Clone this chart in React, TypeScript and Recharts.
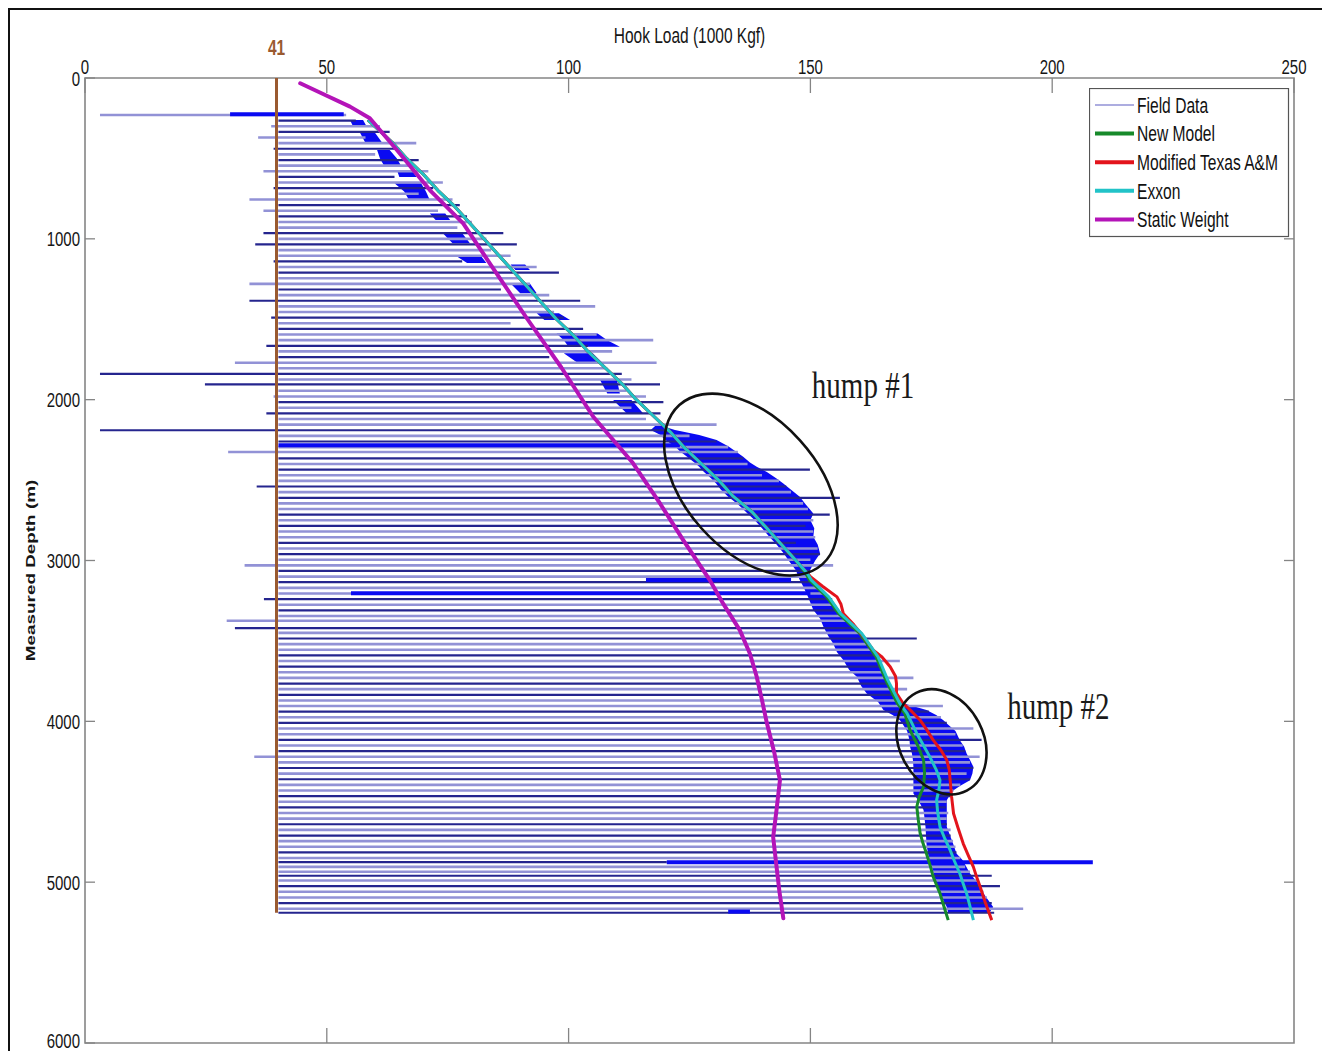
import React from 'react';
import { ComposedChart, Line, Area, XAxis, YAxis, ReferenceArea, ReferenceDot, Legend } from 'recharts';

// ---------- axes ----------
const loadTicks = [0, 50, 100, 150, 200, 250];
const depthTicks = [0, 1000, 2000, 3000, 4000, 5000, 6000];
const loadDomain: [number, number] = [0, 250];
const depthDomain: [number, number] = [0, 6000];
const xTitle = 'Hook Load (1000 Kgf)';
const yTitle = 'Measured Depth (m)';

// ---------- brown reference line (as drawn) ----------
const baseLoad = 39.6;
const baseLabel = '41';
const baseDepths = [0, 5190];

// ---------- field data: strokes [depth, low load, high load] ----------
const fieldStrokes: Array<[number, number, number]> = [
  [230, 3.1, 54], [265, 40, 56], [300, 38.5, 61], [335, 40, 63], [370, 35.8, 58],
  [405, 40, 68.5], [440, 39, 65], [475, 40, 60], [510, 40, 69], [545, 40, 67],
  [580, 36.9, 71], [615, 40, 64], [650, 40, 74], [685, 39, 72], [720, 40, 69],
  [755, 34, 76], [790, 40, 77.5], [825, 36.9, 73], [860, 40, 79], [895, 40, 80],
  [930, 40, 77], [965, 36.9, 86.5], [1000, 40, 83], [1035, 35.2, 89.3], [1070, 40, 84],
  [1105, 40, 88], [1140, 39, 78], [1175, 40, 93.4], [1210, 40, 98], [1245, 40, 90],
  [1280, 34, 92], [1315, 40, 86], [1350, 40, 96], [1385, 34, 102.4], [1420, 40, 105.5],
  [1455, 40, 97], [1490, 38.5, 99], [1525, 40, 88], [1560, 40, 103], [1595, 40, 105.8],
  [1630, 40, 117.5], [1665, 37.5, 104], [1700, 40, 109], [1735, 40, 96], [1770, 31, 118.2],
  [1805, 40, 108], [1840, 3.1, 111], [1875, 40, 113], [1905, 24.8, 118.9], [1945, 40, 112],
  [1980, 39, 116], [2015, 40, 119.6], [2050, 40, 113], [2085, 37.5, 119], [2120, 40, 116],
  [2155, 40, 130.6], [2190, 3.1, 121], [2225, 40, 125], [2260, 40, 130.6], [2295, 40, 133],
  [2325, 29.6, 135], [2365, 40, 136.1], [2400, 40, 137], [2435, 40, 149.9], [2470, 40, 140],
  [2505, 40, 143.5], [2540, 35.5, 145], [2575, 40, 146], [2610, 40, 156.1], [2645, 40, 148.5],
  [2680, 40, 149.5], [2715, 40, 154], [2750, 40, 150.6], [2785, 40, 149], [2820, 40, 150.6],
  [2855, 40, 151], [2890, 40, 147], [2925, 40, 151.5], [2960, 40, 152], [2995, 40, 150],
  [3030, 33, 154.7], [3065, 40, 150], [3100, 40, 149.5], [3135, 40, 150.5], [3170, 40, 152],
  [3205, 40, 153], [3240, 37, 154.5], [3275, 40, 155], [3310, 40, 155.5], [3345, 40, 156.5],
  [3375, 29.3, 158], [3420, 31, 159], [3450, 40, 160], [3485, 40, 172], [3520, 40, 161.5],
  [3555, 40, 162.5], [3590, 40, 163.5], [3625, 40, 168.5], [3660, 40, 164.5], [3695, 40, 165],
  [3730, 40, 171.3], [3765, 40, 166], [3800, 40, 170], [3835, 40, 167], [3870, 40, 168],
  [3905, 40, 177.4], [3940, 40, 174.5], [3975, 40, 177], [4010, 40, 178.2], [4045, 40, 183.7],
  [4080, 40, 180], [4115, 40, 185.4], [4150, 40, 181.5], [4185, 40, 182], [4220, 35, 185],
  [4255, 40, 183], [4290, 40, 183.7], [4325, 40, 182.3], [4360, 40, 183], [4395, 40, 181],
  [4430, 40, 179.6], [4465, 40, 179], [4500, 40, 178.2], [4535, 40, 178], [4570, 40, 178.5],
  [4605, 40, 178.2], [4640, 40, 178.2], [4675, 40, 179], [4710, 40, 179], [4745, 40, 179.5],
  [4780, 40, 180], [4815, 40, 180.2], [4850, 40, 181], [4876, 40, 120.3], [4905, 40, 182],
  [4935, 40, 183], [4960, 40, 187.5], [4990, 40, 184.5], [5025, 40, 189.2], [5060, 40, 185.8],
  [5095, 40, 186.5], [5130, 40, 187.5], [5165, 40, 194], [5190, 40, 188],
];

// strong (pure blue) field strokes [depth, low, high]
const boldStrokes: Array<[number, number, number]> = [
  [226, 30, 53.5], [2283, 40, 123], [3122, 116, 146], [3203, 55, 150],
  [4876, 120.3, 208.4], [5183, 133, 137.5],
];

// dense field data near the tips: patches of [depth, inner load, outer load]
const tipPatches: Array<Array<[number, number, number]>> = [
  [[261, 54.8, 57.5], [304, 55.5, 58.3]],
  [[342, 56.9, 60], [404, 58, 61.5]],
  [[448, 60.4, 63], [500, 61, 64.5], [553, 62, 65.5]],
  [[572, 64.5, 67.5], [615, 65, 68.6]],
  [[655, 64, 69.5], [705, 66, 70.5], [759, 67, 71.3]],
  [[842, 71.3, 74.5], [883, 72.5, 75.5]],
  [[966, 74, 78], [1028, 76, 79.6]],
  [[1111, 77, 82], [1150, 79, 83]],
  [[1160, 88, 91], [1194, 89, 92]],
  [[1277, 88, 92], [1339, 90, 93.4]],
  [[1463, 93.4, 98], [1505, 95, 100.3]],
  [[1588, 97.5, 106], [1630, 99, 108], [1671, 100, 110.6]],
  [[1712, 99, 105], [1774, 102, 107.1]],
  [[1878, 106.5, 110], [1961, 108, 110.6]],
  [[2002, 109.2, 113], [2085, 112, 115.4]],
  [
    [2160, 118, 119], [2189, 117, 122], [2220, 119, 127], [2251, 120, 130.6], [2290, 122, 133],
    [2320, 123, 134.5], [2355, 124.5, 136.1], [2390, 126, 137.5], [2417, 127, 138.9], [2450, 128, 141],
    [2490, 129.5, 143], [2521, 130.5, 144.4], [2560, 131.5, 146], [2604, 133, 147.8], [2650, 135, 149],
    [2707, 137, 150.6], [2750, 138.5, 150], [2800, 140, 150.8], [2852, 141.5, 150.6], [2900, 143, 151.5],
    [2956, 144.5, 152], [3000, 145.5, 151], [3060, 147, 149.9], [3100, 147.5, 149.8], [3122, 147.8, 150.5],
    [3160, 148.5, 152], [3226, 149.5, 154], [3308, 150.6, 156], [3360, 152, 157.5], [3412, 152.7, 159],
    [3470, 153.7, 160.5], [3516, 154.7, 161.5], [3570, 155.5, 163], [3619, 156.8, 164], [3680, 158, 165],
    [3723, 159.6, 165.8], [3780, 160.5, 166.5], [3826, 161.6, 167.3], [3880, 164, 168.3], [3930, 165.1, 174],
    [3960, 167, 176], [3993, 168.5, 177.5], [4013, 169, 178.2], [4060, 170, 180], [4117, 170.5, 180.9],
    [4158, 170.6, 181.8], [4200, 171, 182.3], [4241, 171.2, 183], [4283, 171.3, 183.7], [4324, 171.3, 183.5],
    [4366, 171.3, 183], [4400, 171.3, 181], [4428, 171.3, 179.6], [4448, 171.3, 179], [4490, 172.3, 178.2],
    [4552, 173.4, 178.2], [4656, 173.8, 178.2], [4760, 174, 179.5], [4822, 174.3, 180.2], [4863, 174.7, 181.5],
    [4946, 175.5, 183], [5000, 176, 184.5], [5070, 176.8, 185.8], [5154, 178.2, 187.8], [5190, 178.5, 187],
  ],
];

// ---------- models [depth, hook load] ----------
const newModel: Array<[number, number]> = [
  [260, 58.5], [400, 63.5], [500, 66.5], [600, 70], [700, 73], [800, 76.5], [900, 79.5], [1000, 82.5],
  [1100, 85.5], [1200, 88.5], [1300, 91.5], [1400, 94.5], [1500, 97.5], [1600, 101], [1700, 104],
  [1800, 107.5], [1900, 111], [2000, 114], [2100, 117.5], [2200, 121], [2300, 124], [2400, 127.5],
  [2500, 131], [2600, 134], [2700, 138], [2800, 141], [2900, 144], [3000, 147], [3078, 149],
  [3122, 149.8], [3226, 153.4], [3329, 155.8], [3453, 160.2], [3599, 163.6], [3744, 165.6], [3889, 168],
  [3950, 169.5], [4055, 170.6], [4150, 172.2], [4241, 173.4], [4320, 173.6], [4407, 173.4], [4470, 172.5],
  [4531, 172], [4610, 172.3], [4697, 172.7], [4760, 173.3], [4822, 174], [4900, 174.8], [4967, 175.4],
  [5070, 176.8], [5150, 177.6], [5236, 178.5],
];
const texasAM: Array<[number, number]> = [
  [260, 58.5], [400, 63.5], [500, 66.5], [600, 70], [700, 73], [800, 76.5], [900, 79.5], [1000, 82.5],
  [1100, 85.5], [1200, 88.5], [1300, 91.5], [1400, 94.5], [1500, 97.5], [1600, 101], [1700, 104],
  [1800, 107.5], [1900, 111], [2000, 114], [2100, 117.5], [2200, 121], [2300, 124], [2400, 127.5],
  [2500, 131], [2600, 134], [2700, 138], [2800, 141], [2900, 144], [3000, 147], [3100, 150],
  [3160, 152.5], [3226, 155.5], [3270, 156.3], [3329, 156.8], [3400, 159], [3474, 161], [3557, 163],
  [3600, 164.8], [3661, 166.5], [3720, 167.6], [3764, 167.8], [3826, 167.8], [3889, 169.2], [3940, 171],
  [3993, 172.7], [4050, 174], [4117, 175.4], [4180, 177], [4241, 178.2], [4300, 178.7], [4366, 178.9],
  [4470, 179.2], [4573, 179.6], [4660, 180.5], [4760, 181.6], [4830, 182.6], [4905, 183.7], [4970, 184.4],
  [5029, 185.1], [5130, 186.2], [5236, 187.5],
];
const exxon: Array<[number, number]> = [
  [260, 58.5], [400, 63.5], [500, 66.5], [600, 70], [700, 73], [800, 76.5], [900, 79.5], [1000, 82.5],
  [1100, 85.5], [1200, 88.5], [1300, 91.5], [1400, 94.5], [1500, 97.5], [1600, 101], [1700, 104],
  [1800, 107.5], [1900, 111], [2000, 114], [2100, 117.5], [2200, 121], [2300, 124], [2400, 127.5],
  [2500, 131], [2600, 134], [2700, 138], [2800, 141], [2900, 144], [3000, 147], [3078, 149.3],
  [3122, 150.2], [3226, 153.8], [3329, 156.2], [3453, 160.6], [3599, 164], [3744, 166], [3889, 168.5],
  [3950, 170], [4075, 172], [4150, 173.4], [4221, 174.7], [4300, 176], [4366, 176.8], [4420, 176.6],
  [4490, 176.1], [4560, 176.3], [4656, 176.8], [4730, 177.8], [4801, 178.9], [4870, 179.8], [4946, 180.9],
  [5010, 181.6], [5070, 182.3], [5150, 183], [5236, 183.7],
];
const staticWeight: Array<[number, number]> = [
  [33, 44.5], [110, 50], [178, 54.8], [250, 58.9], [448, 64.5], [697, 71.3], [904, 78.2], [1152, 83.7],
  [1500, 91.5], [1800, 98.5], [2106, 105.1], [2394, 113.3], [2650, 119], [2873, 123.7], [3122, 129.2],
  [3270, 132], [3433, 135.4], [3580, 137.5], [3723, 138.9], [3870, 140], [4011, 141], [4190, 142.5],
  [4366, 143.7], [4550, 143], [4720, 142.3], [4904, 143], [5060, 143.6], [5224, 144.4],
];

// ---------- annotations ----------
const humpNames = ['hump #1', 'hump #2'];
const humpCenters: Array<[number, number]> = [[137.7, 2528], [177.1, 4127]]; // [load, depth]
const humpTextAt: Array<[number, number]> = [[150.3, 1989], [190.7, 3988]];

// ---------- legend ----------
const legendNames = ['Field Data', 'New Model', 'Modified Texas A&M', 'Exxon', 'Static Weight'];

// ---------- styles ----------
const SANS = "'Liberation Sans', Arial, Helvetica, sans-serif";
const SERIF = "'Liberation Serif', 'Times New Roman', serif";
const FRAME = '#858585';
const C_LIGHT = '#9292d6';
const C_DARK = '#25258e';
const C_BLUE = '#0a0af2';
const C_BROWN = '#9a5a30';
const C_GREEN = '#178a2a';
const C_RED = '#e3141c';
const C_CYAN = '#22c3c8';
const C_MAG = '#b414b8';
const legendColors = [C_LIGHT, C_GREEN, C_RED, C_CYAN, C_MAG];
const legendWidths = [1.4, 4, 4, 4, 4];
const humpEllipse = [
  { rx: 107, ry: 66, rot: 48 },
  { rx: 55, ry: 42, rot: 62.6 },
];
const SY = 1.4;

// ---------- derived series ----------
const isDark = (i: number) => i % 5 === 1 || i % 5 === 3;
const bandData = tipPatches.flatMap((patch) => [
  ...patch.map(([d, a, b]) => ({ depth: d, band: [a, b] as [number, number] | null })),
  { depth: patch[patch.length - 1][0], band: null as [number, number] | null },
]);
const toPts = (rows: Array<[number, number]>) => rows.map(([d, v]) => ({ depth: d, load: v }));
const seg = ([d, lo, hi]: [number, number, number]) => [{ depth: d, load: lo }, { depth: d, load: hi }];
const baseData = baseDepths.map((d) => ({ depth: d, load: baseLoad }));

function SText(props: any) {
  const { x, y, children, anchor = 'start', size = 15, weight = 'normal', fill = '#161616', family = SANS, middle = false, sx = 1, sy = SY, rotate = 0 } = props;
  return (
    <text
      transform={`translate(${x},${y}) rotate(${rotate}) scale(${sx},${sy})`}
      textAnchor={anchor}
      fontSize={size}
      fontWeight={weight}
      fill={fill}
      fontFamily={family}
      dy={middle ? '0.36em' : 0}
    >
      {children}
    </text>
  );
}

const TOP_MARGIN = 4;
const LEFT_MARGIN = 5;
const lastDepthTick = depthTicks[depthTicks.length - 1];

const TopTick = (p: any) => {
  const { x, y, payload } = p;
  const top = y + TOP_MARGIN;
  return (
    <g>
      <SText x={x} y={y} anchor="middle" size={15}>{payload.value}</SText>
      <line x1={x} x2={x} y1={top} y2={top + 15} stroke={FRAME} strokeWidth={1.3} />
    </g>
  );
};
const BottomTick = (p: any) => {
  const { x, y } = p;
  return <line x1={x} x2={x} y1={y - 15} y2={y} stroke={FRAME} strokeWidth={1.3} />;
};
const LeftTick = (p: any) => {
  const { x, y, payload } = p;
  const left = x + LEFT_MARGIN;
  const ty = payload.value === lastDepthTick ? y - 2.5 : y;
  return (
    <g>
      <SText x={x} y={ty} anchor="end" size={15} middle>{payload.value}</SText>
      <line x1={left} x2={left + 10} y1={y} y2={y} stroke={FRAME} strokeWidth={1.3} />
    </g>
  );
};
const RightTick = (p: any) => {
  const { x, y } = p;
  return <line x1={x - 10} x2={x} y1={y} y2={y} stroke={FRAME} strokeWidth={1.3} />;
};

const LegendBox = () => (
  <svg width={201} height={150} style={{ display: 'block' }}>
    <rect x={0.5} y={0.5} width={199} height={148} fill="#fff" stroke="#555" strokeWidth={1.2} />
    {legendNames.map((n, i) => {
      const cy = 17 + i * 28.6;
      return (
        <g key={n}>
          <line x1={6} x2={45} y1={cy} y2={cy} stroke={legendColors[i]} strokeWidth={legendWidths[i]} />
          <SText x={48} y={cy} size={15.6} middle fill="#111">{n}</SText>
        </g>
      );
    })}
  </svg>
);

export default function App() {
  return (
    <div style={{ position: 'relative', width: 1318, height: 1043 }}>
      <style>{'html,body{overflow:hidden;}'}</style>
      <div style={{ position: 'absolute', left: 0, top: 0, width: 1317, height: 1070, border: '2px solid #111', boxSizing: 'border-box' }} />
      <div style={{ position: 'absolute', left: 0, top: 0 }}>
        <ComposedChart
          width={1318}
          height={1043}
          layout="vertical"
          margin={{ top: 40, right: 0, bottom: 0, left: 17 }}
        >
          <XAxis
            xAxisId={0}
            type="number"
            orientation="top"
            domain={loadDomain}
            ticks={loadTicks}
            interval={0}
            height={30}
            tickSize={0}
            tickMargin={TOP_MARGIN}
            axisLine={false}
            tickLine={false}
            tick={<TopTick />}
            allowDataOverflow
            label={{
              content: (p: any) => {
                const vb = p.viewBox;
                return <SText x={vb.x + vb.width / 2} y={vb.y - 5} anchor="middle" size={15.5}>{xTitle}</SText>;
              },
            }}
          />
          <XAxis
            xAxisId="b"
            type="number"
            orientation="bottom"
            domain={loadDomain}
            ticks={loadTicks.slice(1, -1)}
            interval={0}
            height={8}
            tickSize={0}
            tickMargin={0}
            axisLine={false}
            tickLine={false}
            tick={<BottomTick />}
            allowDataOverflow
          />
          <YAxis
            yAxisId={0}
            type="number"
            dataKey="depth"
            orientation="left"
            domain={depthDomain}
            ticks={depthTicks}
            interval={0}
            width={60}
            tickSize={0}
            tickMargin={LEFT_MARGIN}
            axisLine={false}
            tickLine={false}
            tick={<LeftTick />}
            allowDataOverflow
            label={{
              content: (p: any) => {
                const vb = p.viewBox;
                return (
                  <SText x={vb.x + 5} y={vb.y + vb.height / 2 + 10} anchor="middle" size={13.5} weight="bold" middle rotate={-90} sx={1.4} sy={1}>
                    {yTitle}
                  </SText>
                );
              },
            }}
          />
          <YAxis
            yAxisId="r"
            type="number"
            dataKey="depth"
            orientation="right"
            domain={depthDomain}
            ticks={depthTicks.slice(1, -1)}
            interval={0}
            width={32}
            tickSize={0}
            tickMargin={0}
            axisLine={false}
            tickLine={false}
            tick={<RightTick />}
            allowDataOverflow
          />

          {fieldStrokes.map((s, i) => (
            <Line
              key={'f' + i}
              data={seg(s)}
              dataKey="load"
              stroke={isDark(i) ? C_DARK : C_LIGHT}
              strokeWidth={isDark(i) ? 2.2 : 2.6}
              dot={false}
              activeDot={false}
              isAnimationActive={false}
              legendType="none"
            />
          ))}
          <Area data={bandData} dataKey="band" type="linear" stroke="none" fill={C_BLUE} fillOpacity={1} isAnimationActive={false} legendType="none" connectNulls={false} dot={false} activeDot={false} />
          {boldStrokes.map((s, i) => (
            <Line
              key={'b' + i}
              data={seg(s)}
              dataKey="load"
              stroke={C_BLUE}
              strokeWidth={4}
              dot={false}
              activeDot={false}
              isAnimationActive={false}
              legendType="none"
            />
          ))}
          <Line data={baseData} dataKey="load" stroke={C_BROWN} strokeWidth={3} dot={false} activeDot={false} isAnimationActive={false} legendType="none" />

          <Line data={toPts(newModel)} dataKey="load" stroke={C_GREEN} strokeWidth={3} dot={false} activeDot={false} isAnimationActive={false} name="New Model" strokeLinejoin="round" />
          <Line data={toPts(texasAM)} dataKey="load" stroke={C_RED} strokeWidth={3} dot={false} activeDot={false} isAnimationActive={false} name="Modified Texas A&M" strokeLinejoin="round" />
          <Line data={toPts(exxon)} dataKey="load" stroke={C_CYAN} strokeWidth={3} dot={false} activeDot={false} isAnimationActive={false} name="Exxon" strokeLinejoin="round" />
          <Line data={toPts(staticWeight)} dataKey="load" stroke={C_MAG} strokeWidth={4} dot={false} activeDot={false} isAnimationActive={false} name="Static Weight" strokeLinejoin="round" strokeLinecap="round" />

          <ReferenceArea x1={loadDomain[0]} x2={loadDomain[1]} y1={depthDomain[0]} y2={depthDomain[1]} fill="none" fillOpacity={0} stroke={FRAME} strokeWidth={1.6} ifOverflow="visible" />

          <ReferenceDot
            x={baseLoad}
            y={depthDomain[0]}
            r={0}
            ifOverflow="visible"
            shape={(p: any) => (
              <SText x={p.cx} y={p.cy - 23} anchor="middle" size={15.5} weight="bold" fill={C_BROWN}>{baseLabel}</SText>
            )}
          />
          {humpNames.map((n, i) => (
            <ReferenceDot
              key={'e' + n}
              x={humpCenters[i][0]}
              y={humpCenters[i][1]}
              r={0}
              ifOverflow="visible"
              shape={(p: any) => (
                <ellipse
                  cx={p.cx}
                  cy={p.cy}
                  rx={humpEllipse[i].rx}
                  ry={humpEllipse[i].ry}
                  transform={`rotate(${humpEllipse[i].rot} ${p.cx} ${p.cy})`}
                  fill="none"
                  stroke="#111"
                  strokeWidth={2.6}
                />
              )}
            />
          ))}
          {humpNames.map((n, i) => (
            <ReferenceDot
              key={'t' + n}
              x={humpTextAt[i][0]}
              y={humpTextAt[i][1]}
              r={0}
              ifOverflow="visible"
              shape={(p: any) => (
                <SText x={p.cx} y={p.cy} size={29} family={SERIF} sy={1.3} fill="#1a1a1a">{n}</SText>
              )}
            />
          ))}

          <Legend
            layout="horizontal"
            verticalAlign="middle"
            align="center"
            content={<LegendBox />}
            wrapperStyle={{ left: 1081, top: 80, width: 201, height: 150 }}
          />
        </ComposedChart>
      </div>
    </div>
  );
}
